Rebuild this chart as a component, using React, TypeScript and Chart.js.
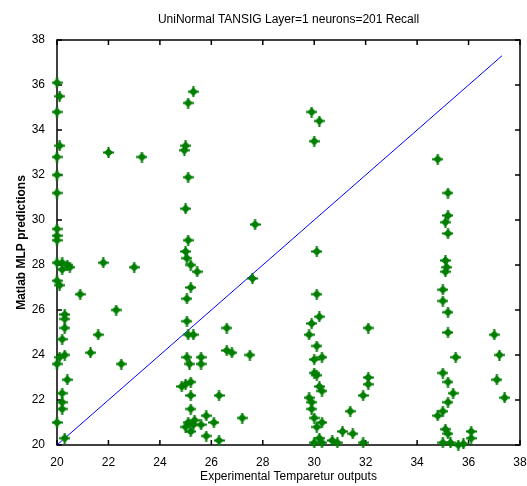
import React, { useEffect, useRef } from "react";
import { Chart, registerables } from "chart.js";

Chart.register(...registerables);

const chartTitle = "UniNormal TANSIG Layer=1 neurons=201 Recall";
const xAxisTitle = "Experimental Temparetur outputs";
const yAxisTitle = "Matlab MLP predictions";

const xTicks = [20, 22, 24, 26, 28, 30, 32, 34, 36, 38];
const yTicks = [20, 22, 24, 26, 28, 30, 32, 34, 36, 38];

// Experimental temperature (x) and MLP prediction (y)
const expX = [
  // column ~20
  20.0, 20.1, 20.0, 20.1, 20.0, 20.0, 20.0,
  20.0, 20.0, 20.0, 20.0, 20.2, 20.4, 20.5, 20.2, 20.0, 20.1,
  20.3, 20.3, 20.3, 20.2, 20.3, 20.1, 20.0, 20.4, 20.2, 20.2, 20.2, 20.0, 20.3,
  // scattered 21-23
  20.9, 21.3, 21.6, 21.8, 22.0, 22.3, 22.5, 23.0, 23.3,
  // column ~25
  25.3, 25.1, 25.0, 24.95, 25.1, 25.0, 25.1, 25.0, 25.05, 25.2, 25.45, 25.2, 25.05,
  25.05, 25.1, 25.3, 25.05, 25.15, 25.6, 25.6, 25.0, 24.85, 25.2, 25.2, 25.2, 25.1,
  25.3, 25.0, 25.2, 25.35,
  // scattered 25.5-28
  25.8, 25.6, 26.1, 25.8, 26.3, 26.3, 26.6, 26.6, 26.8, 27.5, 27.2, 27.7, 27.6,
  // column ~30
  29.9, 30.2, 30.0, 30.1, 30.1, 30.2, 29.9, 29.8, 30.1, 30.3, 30.0, 30.1, 30.0,
  30.2, 30.3, 29.8, 29.9, 29.9, 30.0, 30.3, 30.1, 30.2, 30.0, 30.7, 30.9, 31.1,
  31.5, 31.4, 31.9, 32.1, 32.1, 32.1, 31.9, 30.3,
  // column ~35
  34.8, 35.2, 35.2, 35.1, 35.2, 35.1, 35.15, 35.1, 35.0, 35.0, 35.2, 35.2, 35.5,
  35.0, 35.2, 35.4, 35.2, 35.0, 34.8, 35.1, 35.2, 35.3, 35.0, 35.6, 35.8, 36.1, 36.1,
  // right
  37.0, 37.2, 37.1, 37.4,
];

const predY = [
  36.1, 35.5, 34.8, 33.3, 32.8, 32.0, 31.2,
  29.6, 29.3, 29.1, 28.1, 28.1, 28.0, 27.9, 27.8, 27.3, 27.1,
  25.8, 25.6, 25.2, 24.7, 24.0, 23.9, 23.6, 22.9, 22.3, 21.9, 21.6, 21.0, 20.3,
  26.7, 24.1, 24.9, 28.1, 33.0, 26.0, 23.6, 27.9, 32.8,
  35.7, 35.2, 33.3, 33.1, 31.9, 30.5, 29.1, 28.6, 28.3, 28.0, 27.7, 27.0, 26.5,
  25.5, 24.9, 24.9, 23.9, 23.6, 23.9, 23.6, 22.7, 22.6, 22.8, 22.2, 21.6, 21.0,
  20.9, 20.8, 20.6, 21.1,
  21.3, 20.9, 21.0, 20.4, 20.2, 22.2, 25.2, 24.2, 24.1, 24.0, 21.2, 29.8, 27.4,
  34.8, 34.4, 33.5, 28.6, 26.7, 25.7, 25.4, 24.9, 24.4, 23.9, 23.8, 23.1, 23.2,
  22.6, 22.4, 22.1, 21.9, 21.6, 21.2, 21.0, 20.8, 20.3, 20.1, 20.2, 20.1, 20.6,
  20.5, 21.5, 22.2, 23.0, 22.7, 25.2, 20.1, 20.1,
  32.7, 31.2, 30.2, 29.9, 29.4, 28.2, 27.9, 27.7, 26.9, 26.4, 25.9, 25.0, 23.9,
  23.2, 22.8, 22.3, 21.9, 21.5, 21.3, 20.7, 20.5, 20.1, 20.1, 20.0, 20.05, 20.6, 20.3,
  24.9, 24.0, 22.9, 22.1,
];

// Ideal y = x reference line end points
const idealLine = [20, 37.3];

const FONT = "'Liberation Sans', Arial, sans-serif";
const GREEN = "#007f00";

function makeMarker(): HTMLCanvasElement {
  const c = document.createElement("canvas");
  c.width = 11;
  c.height = 11;
  const ctx = c.getContext("2d")!;
  ctx.fillStyle = GREEN;
  ctx.beginPath();
  ctx.moveTo(5.5, 1);
  ctx.lineTo(10, 5.5);
  ctx.lineTo(5.5, 10);
  ctx.lineTo(1, 5.5);
  ctx.closePath();
  ctx.fill();
  ctx.fillRect(0, 4.5, 11, 2);
  ctx.fillRect(4.5, 0, 2, 11);
  return c;
}

const boxPlugin = {
  id: "matlabBox",
  beforeDatasetsDraw(chart: any) {
    const { ctx, chartArea } = chart;
    const { left, right, top, bottom } = chartArea;
    const xs = chart.scales.x;
    const ys = chart.scales.y;
    ctx.save();
    ctx.strokeStyle = "#000";
    ctx.lineWidth = 1.5;
    ctx.strokeRect(left, top, right - left, bottom - top);
    const tl = 5;
    ctx.beginPath();
    for (const v of xTicks) {
      const p = xs.getPixelForValue(v);
      ctx.moveTo(p, bottom);
      ctx.lineTo(p, bottom - tl);
      ctx.moveTo(p, top);
      ctx.lineTo(p, top + tl);
    }
    for (const v of yTicks) {
      const p = ys.getPixelForValue(v);
      ctx.moveTo(left, p);
      ctx.lineTo(left + tl, p);
      ctx.moveTo(right, p);
      ctx.lineTo(right - tl, p);
    }
    ctx.stroke();
    ctx.restore();
  },
  afterDraw(chart: any) {
    const { ctx, chartArea } = chart;
    ctx.save();
    ctx.fillStyle = "#000";
    ctx.font = `12px ${FONT}`;
    ctx.textAlign = "center";
    ctx.textBaseline = "middle";
    ctx.fillText(chartTitle, (chartArea.left + chartArea.right) / 2, 20);
    ctx.restore();
  },
};

export default function App() {
  const ref = useRef<HTMLCanvasElement | null>(null);

  useEffect(() => {
    document.body.style.margin = "0";
    const canvas = ref.current;
    if (!canvas) return;
    const marker = makeMarker();
    const points = expX.map((x, i) => ({ x, y: predY[i] }));
    const line = idealLine.map((v) => ({ x: v, y: v }));

    const chart = new Chart(canvas, {
      type: "scatter",
      data: {
        datasets: [
          {
            data: points,
            pointStyle: marker as any,
            pointRadius: 5,
            backgroundColor: GREEN,
            borderColor: GREEN,
            clip: false as any,
            order: 1,
          },
          {
            data: line,
            showLine: true,
            borderColor: "#0000ff",
            borderWidth: 1,
            pointRadius: 0,
            order: 2,
          },
        ],
      },
      plugins: [boxPlugin],
      options: {
        responsive: false,
        animation: false,
        devicePixelRatio: 1,
        layout: { padding: { left: 0, right: 7, top: 40, bottom: 0 } },
        plugins: {
          legend: { display: false },
          tooltip: { enabled: false },
          title: { display: false },
        },
        scales: {
          x: {
            type: "linear",
            min: 20,
            max: 38,
            afterBuildTicks: (s: any) => {
              s.ticks = xTicks.map((v) => ({ value: v }));
            },
            afterFit: (s: any) => {
              s.height = 41;
              s.paddingRight = 0;
              s.paddingLeft = 0;
            },
            grid: { display: false },
            border: { display: false },
            ticks: {
              color: "#000",
              font: { family: FONT, size: 12 },
              padding: 2,
              maxRotation: 0,
              autoSkip: false,
            },
            title: {
              display: true,
              text: xAxisTitle,
              color: "#000",
              font: { family: FONT, size: 12 },
              padding: { top: 0, bottom: 2 },
            },
          },
          y: {
            type: "linear",
            min: 20,
            max: 38,
            afterBuildTicks: (s: any) => {
              s.ticks = yTicks.map((v) => ({ value: v }));
            },
            afterFit: (s: any) => {
              s.width = 57;
              s.paddingTop = 0;
              s.paddingBottom = 0;
            },
            grid: { display: false },
            border: { display: false },
            ticks: {
              color: "#000",
              font: { family: FONT, size: 12 },
              padding: 4,
              autoSkip: false,
            },
            title: {
              display: true,
              text: yAxisTitle,
              color: "#000",
              font: { family: FONT, size: 12, weight: "bold" },
              padding: { top: 14, bottom: 0 },
            },
          },
        },
      },
    });
    return () => chart.destroy();
  }, []);

  return <canvas ref={ref} width={527} height={486} style={{ display: "block" }} />;
}
